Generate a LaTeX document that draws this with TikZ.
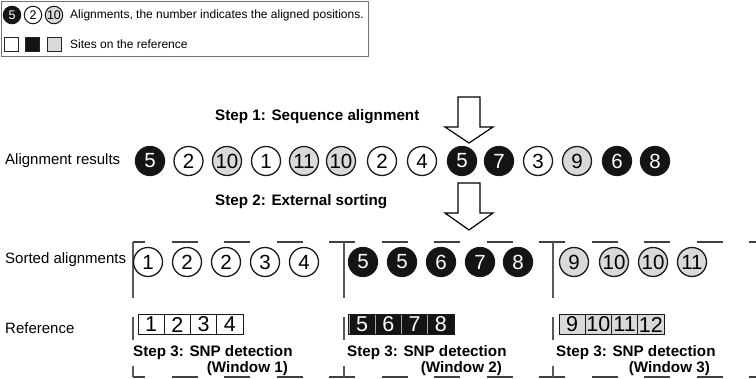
\documentclass[tikz,border=0pt]{standalone}
\usepackage{fontspec}
\setmainfont{Liberation Sans}
\begin{document}
\begin{tikzpicture}[x=1pt,y=-1pt,
  lbl/.style={inner sep=0pt, font=\fontsize{15}{17}\selectfont},
  smalllbl/.style={inner sep=0pt, font=\fontsize{12}{14}\selectfont},
  steplbl/.style={inner sep=0pt, font=\bfseries\fontsize{15.2}{17}\selectfont},
  al/.style={circle, draw=black!90, line width=1.3pt, minimum size=29pt, inner sep=0pt,
             font=\fontsize{20.5}{20.5}\selectfont},
  alw/.style={al, fill=white},
  alb/.style={al, fill=black!92, text=white},
  alg/.style={al, fill=gray!30},
  lal/.style={circle, draw=black!90, line width=1pt, minimum size=17.5pt, inner sep=0pt,
              font=\fontsize{12.5}{12.5}\selectfont},
  lsq/.style={rectangle, draw=black!85, line width=0.8pt, minimum size=14pt, inner sep=0pt},
  cell/.style={rectangle, draw=black!90, line width=0.9pt, minimum width=26.25pt,
               minimum height=19.5pt, inner sep=0pt, font=\fontsize{21.5}{21.5}\selectfont},
  blockarrow/.style={draw=black, line width=1.2pt, fill=white, line join=miter},
  winedge/.style={draw=black!75, line width=1.2pt, dash pattern=on 26pt off 26.5pt, dash phase=14pt},
  winside/.style={draw=black!65, line width=1.4pt,
                  dash pattern=on 56pt off 19pt on 23pt off 26pt on 20pt off 20pt}]
\useasboundingbox (0,0) rectangle (756,379);
\clip (0,0) rectangle (756,379);

% legend
\draw[draw=black!55, line width=1pt] (1.5,1.5) rectangle (368.5,57);
\node[lal, fill=black!92, text=white] (lg5) at (12,15) {5};
\node[lal, fill=white] (lg2) at (33,15) {2};
\node[lal, fill=gray!30] (lg10) at (54,15) {10};
\node[smalllbl, anchor=west] (lgtxt1) at (70,15) {Alignments, the number indicates the aligned positions.};
\node[lsq, fill=white] (sqw) at (11.5,44) {};
\node[lsq, fill=black!92] (sqb) at (32.5,44) {};
\node[lsq, fill=gray!30] (sqg) at (54,44) {};
\node[smalllbl, anchor=west] (lgtxt2) at (70,44) {Sites on the reference};

% step 1
\node[steplbl, anchor=west] (step1) at (215,117) {Step 1: Sequence alignment};
\draw[blockarrow] (458,97) -- (480,97) -- (480,127) -- (493,127) -- (469,143)
  -- (445,127) -- (458,127) -- cycle;

% alignment results
\node[lbl, anchor=west] (rowres) at (5,161) {Alignment results};
\foreach \x/\n/\s [count=\k] in {150/5/alb, 188.5/2/alw, 227/10/alg, 266/1/alw, 304/11/alg,
    341/10/alg, 382/2/alw, 422/4/alw, 462/5/alb, 499/7/alb, 538/3/alw, 577/9/alg,
    617/6/alb, 655/8/alb}
  \node[\s] (r\k) at (\x,161) {\n};

% step 2
\node[steplbl, anchor=west] (step2) at (215,202) {Step 2: External sorting};
\draw[blockarrow] (458,183) -- (480,183) -- (480,213) -- (493,213) -- (469,230)
  -- (445,213) -- (458,213) -- cycle;

% windows
\draw[winedge] (133,242) -- (756,242);
\draw[winedge] (133,377) -- (756,377);
\foreach \x [count=\k] in {133,344,553}
  \draw[winside] (\x,242) -- (\x,377);

% sorted alignments
\node[lbl, anchor=west] (rowsort) at (5,260) {Sorted alignments};
\foreach \x/\n/\s [count=\k] in {148/1/alw, 187/2/alw, 226/2/alw, 265/3/alw, 304/4/alw,
    363/5/alb, 402/5/alb, 441/6/alb, 480/7/alb, 518/8/alb,
    574/9/alg, 614/10/alg, 653/10/alg, 692/11/alg}
  \node[\s] (s\k) at (\x,262) {\n};

% reference sites
\node[lbl, anchor=west] (rowref) at (5,328) {Reference};
\foreach \n [count=\k] in {1,2,3,4}
  \node[cell, fill=white] (ra\k) at (151.1+26.25*\k-26.25,324.5) {\n};
\foreach \n [count=\k] in {5,6,7,8}
  \node[cell, fill=black!92, draw=black!35, text=white] (rb\k) at (362.1+26.25*\k-26.25,324.5) {\n};
\draw[black!90, line width=0.9pt] (rb1.north west) rectangle (rb4.south east);
\foreach \n [count=\k] in {9,10,11,12}
  \node[cell, fill=gray!30] (rc\k) at (572.1+26.25*\k-26.25,324.5) {\n};

% step 3 labels
\node[steplbl, anchor=west] (snp1) at (133,353) {Step 3: SNP detection};
\node[steplbl, anchor=east] (win1) at (288,369) {(Window 1)};
\node[steplbl, anchor=west] (snp2) at (347,353) {Step 3: SNP detection};
\node[steplbl, anchor=east] (win2) at (502,369) {(Window 2)};
\node[steplbl, anchor=west] (snp3) at (556,353) {Step 3: SNP detection};
\node[steplbl, anchor=east] (win3) at (710,369) {(Window 3)};
\end{tikzpicture}
\end{document}
